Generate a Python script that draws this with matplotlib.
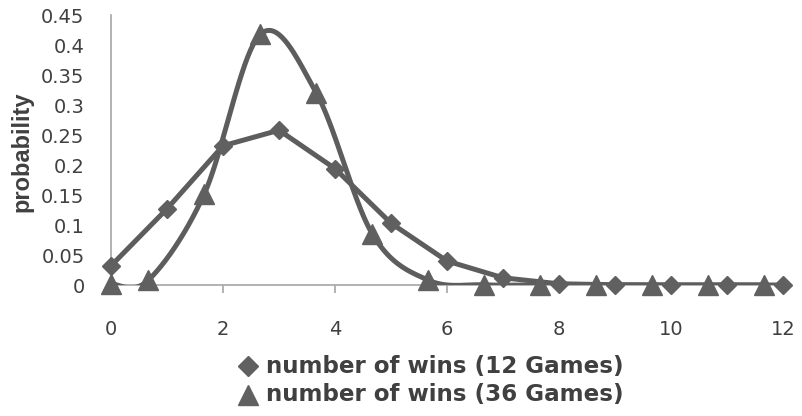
import numpy as np
import matplotlib
matplotlib.use("Agg")
import matplotlib.pyplot as plt
from matplotlib.lines import Line2D

# number of wins over 12 games
wins_12 = [0, 1, 2, 3, 4, 5, 6, 7, 8, 9, 10, 11, 12]
prob_12 = [0.032, 0.127, 0.232, 0.258, 0.194, 0.103, 0.040, 0.012, 0.002, 0.0004, 0.0, 0.0, 0.0]

# number of wins over 36 games (scaled to a 12-game axis)
wins_36 = [0, 0.667, 1.667, 2.667, 3.667, 4.667, 5.667, 6.667, 7.667, 8.667, 9.667, 10.667, 11.667]
prob_36 = [0.002, 0.008, 0.152, 0.418, 0.320, 0.085, 0.008, 0.0003, 0.0, 0.0, 0.0, 0.0, 0.0]

labels = ["number of wins (12 Games)", "number of wins (36 Games)"]
x_ticks = [0, 2, 4, 6, 8, 10, 12]
y_ticks = [0, 0.05, 0.1, 0.15, 0.2, 0.25, 0.3, 0.35, 0.4, 0.45]
y_ticklabels = ["0", "0.05", "0.1", "0.15", "0.2", "0.25", "0.3", "0.35", "0.4", "0.45"]

LINE = "#5d5d5d"
MARK = "#606060"
AXIS = "#a6a6a6"
TEXT = "#404040"


def smooth(xs, ys, n=40):
    """Cubic Bezier smoothing through every point (spreadsheet-style)."""
    p = np.column_stack([xs, ys]).astype(float)
    pts = np.vstack([p[0], p, p[-1]])
    out = []
    t = np.linspace(0, 1, n)[:, None]
    for i in range(1, len(pts) - 2):
        p0, p1, p2, p3 = pts[i - 1], pts[i], pts[i + 1], pts[i + 2]
        c1 = p1 + (p2 - p0) / 6.0
        c2 = p2 - (p3 - p1) / 6.0
        seg = ((1 - t) ** 3) * p1 + 3 * ((1 - t) ** 2) * t * c1 + 3 * (1 - t) * t ** 2 * c2 + t ** 3 * p2
        out.append(seg if i == 1 else seg[1:])
    seg = np.vstack(out)
    return seg[:, 0], seg[:, 1]


fig = plt.figure(figsize=(8.02, 4.16), dpi=100)
ax = fig.add_axes([0.1384, 0.3149, 0.8379, 0.6490])

# 12-game series: straight segments
ax.plot(wins_12, prob_12, color=LINE, lw=3.6, solid_joinstyle="round", zorder=3)
ax.plot(wins_12, prob_12, linestyle="none", marker="D", ms=9.5, color=MARK,
        markeredgecolor=MARK, zorder=4, clip_on=False)

# 36-game series: smoothed curve
tx, ty = smooth(wins_36, prob_36)
ax.plot(tx, ty, color=LINE, lw=3.6, solid_capstyle="round", zorder=3)
ax.plot(wins_36, prob_36, linestyle="none", marker="^", ms=15, color=MARK,
        markeredgecolor=MARK, zorder=5, clip_on=False)

ax.set_xlim(0, 12)
ax.set_ylim(0, 0.45)
ax.set_xticks(x_ticks)
ax.set_xticklabels([str(v) for v in x_ticks])
ax.set_yticks(y_ticks)
ax.set_yticklabels(y_ticklabels)

for side in ["top", "right"]:
    ax.spines[side].set_visible(False)
for side in ["left", "bottom"]:
    ax.spines[side].set_color(AXIS)
    ax.spines[side].set_linewidth(1.2)
ax.spines["bottom"].set_zorder(1)

ax.tick_params(axis="x", direction="out", length=6, width=1.2, color=AXIS,
               labelsize=14, labelcolor=TEXT, pad=19)
ax.tick_params(axis="y", length=0, labelsize=14, labelcolor=TEXT, pad=19)
for lab in ax.get_xticklabels() + ax.get_yticklabels():
    lab.set_fontfamily("DejaVu Sans")

ax.set_ylabel("probability", fontsize=17, fontweight="bold", color=TEXT,
              family="Liberation Sans")
ax.yaxis.set_label_coords(-0.116, 0.493)

# legend drawn below the plot area
legend_marks = [("D", 10), ("^", 14)]
legend_rows = [1 - 366 / 416, 1 - 395 / 416]
for (mk, size), label, yrow in zip(legend_marks, labels, legend_rows):
    fig.add_artist(Line2D([248 / 802], [yrow], transform=fig.transFigure,
                          linestyle="none", marker=mk, ms=size, color=MARK))
    fig.text(266 / 802, yrow, label, ha="left", va="center", fontsize=16.6,
             fontweight="bold", family="DejaVu Sans", color=TEXT)

fig.savefig("out.png", dpi=100)
